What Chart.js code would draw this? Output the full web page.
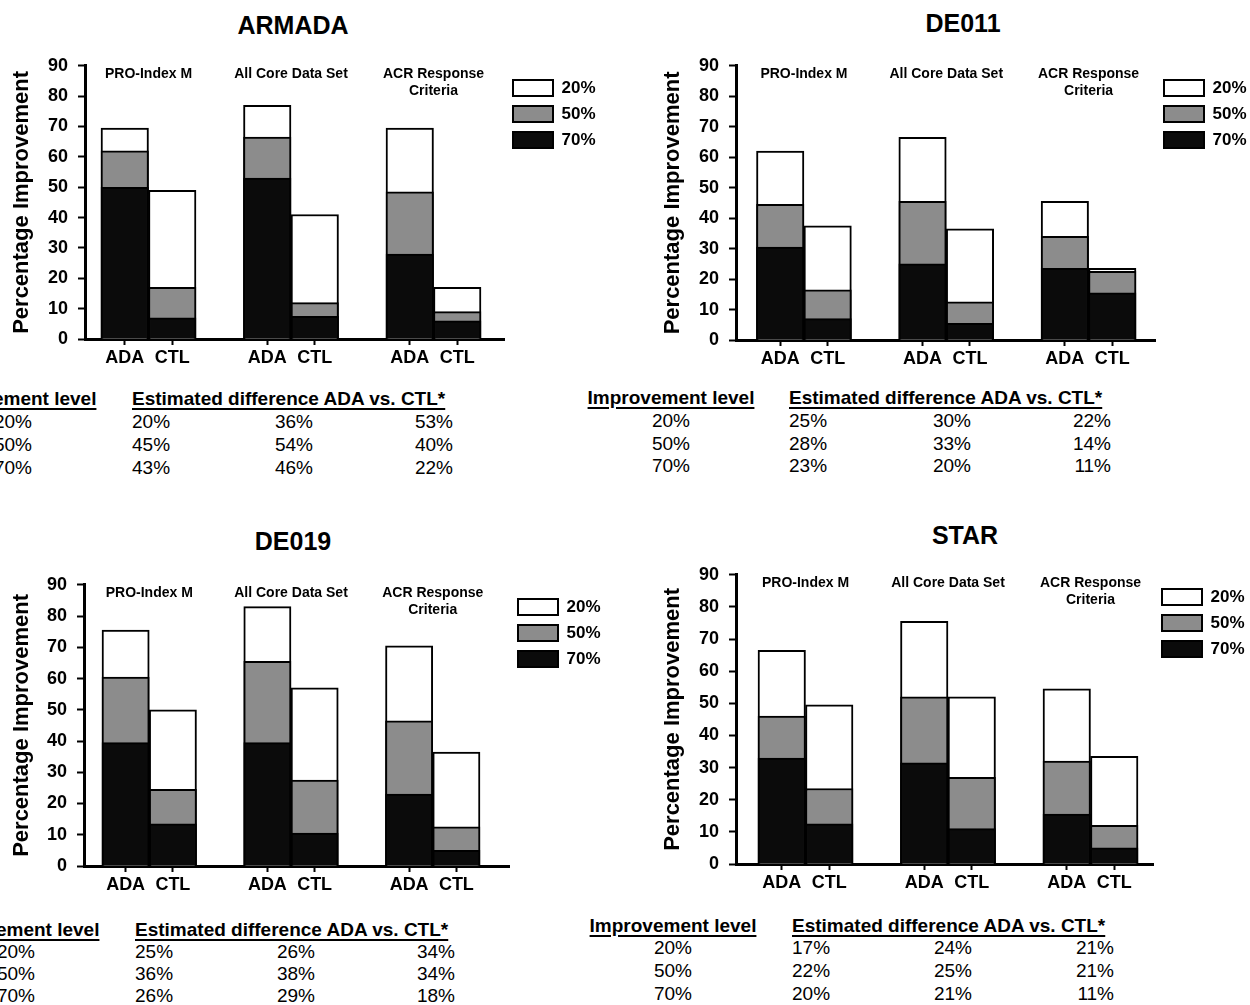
<!DOCTYPE html>
<html>
<head>
<meta charset="utf-8">
<title>ADA vs CTL - percentage improvement</title>
<script src="https://cdn.jsdelivr.net/npm/chart.js@4.4.1/dist/chart.umd.min.js"></script>
<style>
  html, body { margin: 0; padding: 0; background: #fff; }
  body {
    position: relative; width: 1250px; height: 1005px; overflow: hidden;
    font-family: "Liberation Sans", Arial, Helvetica, sans-serif; color: #000;
  }
  canvas { position: absolute; }
  .txt { position: absolute; white-space: nowrap; line-height: 24px; height: 24px; }
  .title { font-size: 25px; font-weight: bold; line-height: 30px; height: 30px; }
  .head {
    font-size: 19px; font-weight: bold; text-decoration: underline;
    text-decoration-thickness: 2px; text-underline-offset: 3px;
  }
  .val { font-size: 19px; }
</style>
</head>
<body>
<script>
// Four trials (ARMADA, DE011, DE019, STAR): % of patients reaching 20/50/70 %
// improvement, ADA vs CTL, for three response measures. Bars overlap (70 over 50 over 20).

const FONT = '"Liberation Sans", Arial, Helvetica, sans-serif';

const levels = ["20%", "50%", "70%"];
const arms = ["ADA", "CTL"];
const measures = [["PRO-Index M"], ["All Core Data Set"], ["ACR Response", "Criteria"]];
// x position of each bar: PRO ADA, PRO CTL, Core ADA, Core CTL, ACR ADA, ACR CTL
const positions = [0, 1, 3, 4, 6, 7];
const groupCenters = [0.5, 3.5, 6.5];

const armada20 = [69.5, 49, 77, 41, 69.5, 17];
const armada50 = [62, 17, 66.5, 12, 48.5, 9];
const armada70 = [50, 7, 53, 7.5, 28, 6];
const armadaDiff = [["20%", "36%", "53%"], ["45%", "54%", "40%"], ["43%", "46%", "22%"]];

const de011_20 = [62, 37.5, 66.5, 36.5, 45.5, 23.5];
const de011_50 = [44.5, 16.5, 45.5, 12.5, 34, 22.5];
const de011_70 = [30.5, 7, 25, 5.5, 23.5, 15.5];
const de011Diff = [["25%", "30%", "22%"], ["28%", "33%", "14%"], ["23%", "20%", "11%"]];

const de019_20 = [75.5, 50, 83, 57, 70.5, 36.5];
const de019_50 = [60.5, 24.5, 65.5, 27.5, 46.5, 12.5];
const de019_70 = [39.5, 13.5, 39.5, 10.5, 23, 5];
const de019Diff = [["25%", "26%", "34%"], ["36%", "38%", "34%"], ["26%", "29%", "18%"]];

const star20 = [66.5, 49.5, 75.5, 52, 54.5, 33.5];
const star50 = [46, 23.5, 52, 27, 32, 12];
const star70 = [33, 12.5, 31.5, 11, 15.5, 5];
const starDiff = [["17%", "24%", "21%"], ["22%", "25%", "21%"], ["20%", "21%", "11%"]];

// page layout of each panel (pixels)
const panels = [
  { title: "ARMADA", d20: armada20, d50: armada50, d70: armada70, diff: armadaDiff,
    lay: { left: 0, width: 620, axisX: 85, barsL: 101, barsR: 481, chartR: 504, top: 65, bottom: 339,
           yTitleX: 22, titleX: 293, titleY: 25,
           tab: { y: 399, c1: 13, c2: 132, c3: 294, c4: 453, rows: [422, 445, 468] } } },
  { title: "DE011", d20: de011_20, d50: de011_50, d70: de011_70, diff: de011Diff,
    lay: { left: 640, width: 640, axisX: 736, barsL: 756.5, barsR: 1136, chartR: 1155, top: 65, bottom: 340,
           yTitleX: 673, titleX: 963, titleY: 23,
           tab: { y: 398, c1: 671, c2: 789, c3: 952, c4: 1111, rows: [421, 444, 466] } } },
  { title: "DE019", d20: de019_20, d50: de019_50, d70: de019_70, diff: de019Diff,
    lay: { left: 0, width: 620, axisX: 84, barsL: 102, barsR: 480, chartR: 509, top: 584, bottom: 866,
           yTitleX: 22, titleX: 293, titleY: 541,
           tab: { y: 930, c1: 16, c2: 135, c3: 296, c4: 455, rows: [952, 974, 996] } } },
  { title: "STAR", d20: star20, d50: star50, d70: star70, diff: starDiff,
    lay: { left: 640, width: 640, axisX: 736, barsL: 758, barsR: 1138, chartR: 1153, top: 574, bottom: 864,
           yTitleX: 673, titleX: 965, titleY: 535,
           tab: { y: 926, c1: 673, c2: 792, c3: 953, c4: 1114, rows: [948, 971, 994] } } },
];

Chart.defaults.font.family = FONT;
Chart.defaults.color = "#000";

const measureCtx = document.createElement("canvas").getContext("2d");
measureCtx.font = "bold 17px " + FONT;
const legendTextW = Math.max(...levels.map((t) => measureCtx.measureText(t).width));

// labels above each pair of bars
const groupLabels = {
  id: "groupLabels",
  afterDatasetsDraw(chart) {
    const { ctx, chartArea, scales } = chart;
    ctx.save();
    ctx.font = "bold 14px " + FONT;
    ctx.fillStyle = "#000";
    ctx.textAlign = "center";
    ctx.textBaseline = "middle";
    measures.forEach((lines, i) => {
      const cx = scales.x.getPixelForValue(groupCenters[i]);
      lines.forEach((line, j) => ctx.fillText(line, cx, chartArea.top + 8 + j * 17));
    });
    ctx.restore();
  },
};

function addText(text, x, y, align, cls) {
  const el = document.createElement("div");
  el.className = "txt " + cls;
  el.textContent = text;
  el.style.left = x + "px";
  el.style.top = y - (cls === "title" ? 15 : 12) + "px";
  if (align === "center") el.style.transform = "translateX(-50%)";
  if (align === "right") el.style.transform = "translateX(-100%)";
  document.body.appendChild(el);
}

function drawPanel(p) {
  const L = p.lay;
  const cTop = L.top - 20;
  const cv = document.createElement("canvas");
  cv.width = L.width;
  cv.height = L.bottom + 34 - cTop;
  cv.style.left = L.left + "px";
  cv.style.top = cTop + "px";
  document.body.appendChild(cv);

  const slot = (L.barsR - L.barsL) / 8;
  const xMin = -0.5 - (L.barsL - L.axisX) / slot;
  const xMax = -0.5 + (L.chartR - L.barsL) / slot;
  const legendW = 9 + 40 + 17 / 2 + legendTextW + 10;
  const padRight = L.width - (L.chartR - L.left) - legendW;
  const pts = (arr) => positions.map((x, i) => ({ x, y: arr[i] }));

  new Chart(cv, {
    type: "bar",
    data: {
      datasets: [
        { label: levels[2], data: pts(p.d70), backgroundColor: "#0b0b0b", borderColor: "#000", borderWidth: 2 },
        { label: levels[1], data: pts(p.d50), backgroundColor: "#8c8c8c", borderColor: "#000", borderWidth: 2 },
        { label: levels[0], data: pts(p.d20), backgroundColor: "#fff", borderColor: "#000", borderWidth: 2 },
      ],
    },
    options: {
      responsive: false,
      animation: false,
      events: [],
      datasets: { bar: { grouped: false, categoryPercentage: 1, barPercentage: 1 } },
      layout: { padding: { top: 20, left: 0, bottom: 0, right: padRight } },
      scales: {
        x: {
          type: "linear",
          min: xMin,
          max: xMax,
          offset: false,
          afterBuildTicks: (axis) => { axis.ticks = positions.map((v) => ({ value: v })); },
          afterFit: (scale) => { scale.height = 34; },
          ticks: {
            callback: (v) => arms[v % 3],
            font: { size: 18, weight: "bold" },
            padding: 2,
            maxRotation: 0,
            autoSkip: false,
          },
          grid: { offset: false, drawOnChartArea: false, tickLength: 6, tickWidth: 2, tickColor: "#000" },
          border: { color: "#000", width: 3 },
        },
        y: {
          min: 0,
          max: 90,
          afterFit: (scale) => { scale.width = L.axisX - L.left; },
          ticks: { stepSize: 10, font: { size: 18, weight: "bold" }, padding: 10 },
          grid: { drawOnChartArea: false, tickLength: 7, tickWidth: 2, tickColor: "#000" },
          border: { color: "#000", width: 3 },
          title: {
            display: true,
            text: "Percentage Improvement",
            font: { size: 22, weight: "bold" },
            padding: { top: L.yTitleX - L.left - 13.2, bottom: 0 },
          },
        },
      },
      plugins: {
        legend: {
          position: "right",
          align: "start",
          fullSize: false,
          reverse: true,
          title: { display: true, text: "", font: { size: 4 }, padding: 0 },
          labels: {
            boxWidth: 40,
            boxHeight: 16,
            padding: 9,
            font: { size: 17, weight: "bold" },
          },
        },
        tooltip: { enabled: false },
      },
    },
    plugins: [groupLabels],
  });

  // title and table of estimated differences
  const t = L.tab;
  addText(p.title, L.titleX, L.titleY, "center", "title");
  addText("Improvement level", t.c1, t.y, "center", "head");
  addText("Estimated difference ADA vs. CTL*", t.c2, t.y, "left", "head");
  levels.forEach((lv, r) => {
    const y = t.rows[r];
    addText(lv, t.c1, y, "center", "val");
    addText(p.diff[r][0], t.c2, y, "left", "val");
    addText(p.diff[r][1], t.c3, y, "center", "val");
    addText(p.diff[r][2], t.c4, y, "right", "val");
  });
}

panels.forEach(drawPanel);
</script>
</body>
</html>
